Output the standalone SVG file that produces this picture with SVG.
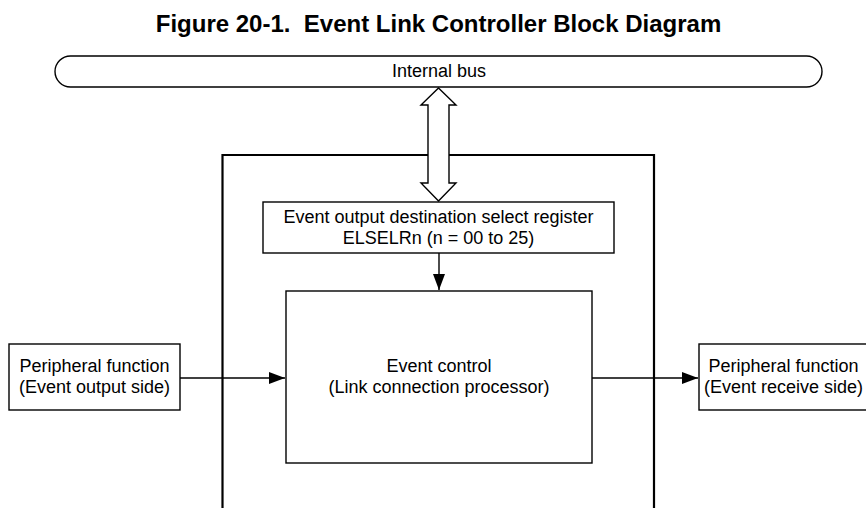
<svg xmlns="http://www.w3.org/2000/svg" width="866" height="508" viewBox="0 0 866 508">
  <style>
    text { font-family: "Liberation Sans", Arial, sans-serif; fill: #000; }
    .title { font-size: 24px; font-weight: bold; text-anchor: middle; white-space: pre; }
    .lbl { font-size: 18px; text-anchor: middle; }
    .box { fill: #fff; stroke: #000; stroke-width: 1.4; }
    .frame { fill: none; stroke: #000; stroke-width: 2.2; }
    .conn { stroke: #000; stroke-width: 1.4; fill: none; }
  </style>
  <defs>
    <marker id="ah" viewBox="0 0 16 12" refX="16" refY="6" markerWidth="16" markerHeight="12" markerUnits="userSpaceOnUse" orient="auto">
      <path d="M0,0 L16,6 L0,12 Z" fill="#000"/>
    </marker>
  </defs>
  <rect width="866" height="508" fill="#fff"/>
  <text class="title" x="438.5" y="32" xml:space="preserve">Figure 20-1.  Event Link Controller Block Diagram</text>

  <g id="bus">
    <rect class="box" x="55" y="56" width="767" height="31" rx="15.5" ry="15.5" stroke-width="1.6"/>
    <text class="lbl" x="439" y="77">Internal bus</text>
  </g>

  <g id="elc-frame">
    <path class="frame" d="M222.5,510 V155 H654 V510"/>
  </g>

  <g id="register">
    <rect class="box" x="263" y="202" width="351" height="51"/>
    <text class="lbl" x="438.5" y="223">Event output destination select register</text>
    <text class="lbl" x="438.5" y="244">ELSELRn (n = 00 to 25)</text>
  </g>

  <g id="event-control">
    <rect class="box" x="286" y="291" width="306" height="172"/>
    <text class="lbl" x="439" y="372">Event control</text>
    <text class="lbl" x="439" y="393">(Link connection processor)</text>
  </g>

  <g id="periph-out">
    <rect class="box" x="9" y="344" width="171" height="66"/>
    <text class="lbl" x="94.5" y="372">Peripheral function</text>
    <text class="lbl" x="94.5" y="393">(Event output side)</text>
  </g>

  <g id="periph-in">
    <rect class="box" x="699" y="344" width="168" height="66"/>
    <text class="lbl" x="783.5" y="372">Peripheral function</text>
    <text class="lbl" x="783.5" y="393">(Event receive side)</text>
  </g>

  <g id="connectors">
    <polygon class="box" points="438.5,88 456,105 449,105 449,183 456,183 438.5,201 421,183 428,183 428,105 421,105" stroke-width="1.6"/>
    <line class="conn" x1="439" y1="253" x2="439" y2="290" marker-end="url(#ah)"/>
    <line class="conn" x1="180" y1="378" x2="285" y2="378" marker-end="url(#ah)"/>
    <line class="conn" x1="592" y1="378" x2="698" y2="378" marker-end="url(#ah)"/>
  </g>
</svg>
